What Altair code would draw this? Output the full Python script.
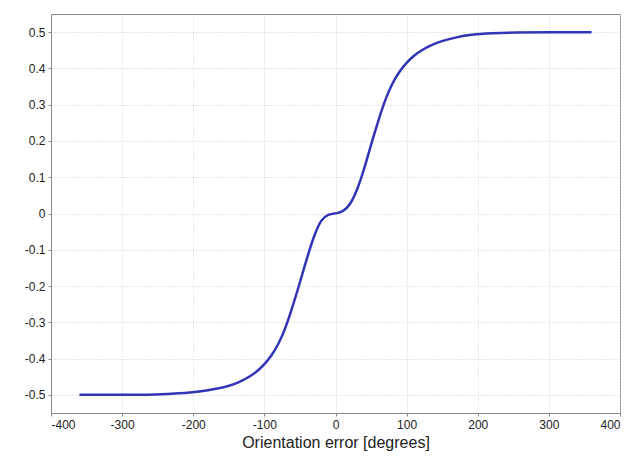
import altair as alt
import pandas as pd

x_deg = [-360, -300, -250, -220, -190, -170, -150, -135, -120, -110, -100, -90, -80,
         -70, -60, -50, -40, -30, -20, -10, 0, 10, 20, 30, 40, 50, 60, 70, 80, 90,
         100, 110, 120, 135, 150, 170, 190, 220, 250, 300, 360]
y_val = [-0.5, -0.5, -0.499, -0.496, -0.491, -0.484, -0.476, -0.465, -0.449, -0.435,
         -0.416, -0.392, -0.36, -0.315, -0.255, -0.19, -0.122, -0.06, -0.015, -0.002,
         0.0, 0.004, 0.022, 0.062, 0.12, 0.19, 0.255, 0.315, 0.36, 0.392,
         0.416, 0.435, 0.449, 0.465, 0.476, 0.486, 0.493, 0.497, 0.499, 0.5, 0.5]

x_ticks = [-400, -300, -200, -100, 0, 100, 200, 300, 400]
y_ticks = [-0.5, -0.4, -0.3, -0.2, -0.1, 0, 0.1, 0.2, 0.3, 0.4, 0.5]

df = pd.DataFrame({"x": x_deg, "y": y_val})

font = "Liberation Sans"

chart = alt.Chart(df).mark_line(color="#3333b8", strokeWidth=2.5, interpolate="basis").encode(
    x=alt.X("x:Q", scale=alt.Scale(domain=[-400, 400], nice=False, zero=False),
            axis=alt.Axis(values=x_ticks, title="Orientation error [degrees]",
                          labelExpr="toString(datum.value)")),
    y=alt.Y("y:Q", scale=alt.Scale(domain=[-0.55, 0.55], nice=False, zero=False),
            axis=alt.Axis(values=y_ticks, title=None,
                          labelExpr="datum.value == 0 ? '0' : toString(round(datum.value*10)/10)")),
).properties(
    width=569, height=399,
    autosize="none",
    padding={"left": 43, "top": 6, "right": 1, "bottom": 41},
).configure_view(
    stroke="#888888", strokeWidth=1
).configure_axis(
    domainColor="#888888",
    gridColor="#d0d0d0", gridDash=[1, 2], gridWidth=1,
    tickColor="#888888", tickSize=3,
    labelFont=font, labelFontSize=12, labelColor="#222222", labelPadding=3,
    titleFont=font, titleFontSize=16, titleFontWeight="normal", titleColor="#222222",
    titlePadding=4,
)

chart.save("out.html", embed_options={"renderer": "svg", "actions": False})
